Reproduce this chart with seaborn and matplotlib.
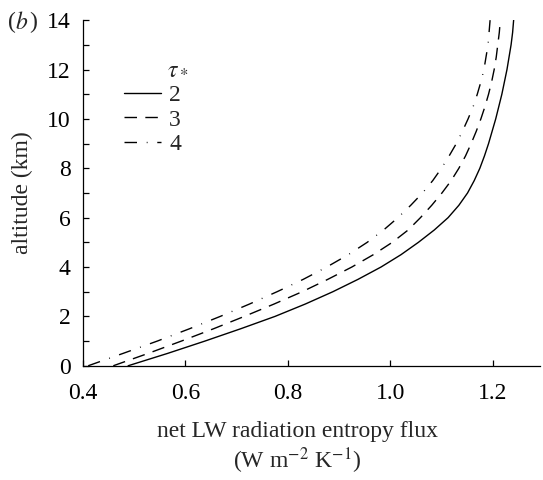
import matplotlib
matplotlib.use("Agg")
import matplotlib.pyplot as plt
import pandas as pd
import seaborn as sns

# altitude (km) and net LW radiation entropy flux for each tau*
altitude = [0, 0.5, 1, 1.5, 2, 2.5, 3, 3.5, 4, 4.5, 5, 5.5, 6, 6.5, 7, 7.5,
            8, 8.5, 9, 9.5, 10, 10.5, 11, 11.5, 12, 12.5, 13, 13.5, 14]
flux_tau2 = [0.488, 0.565, 0.638, 0.708, 0.775, 0.834, 0.888, 0.937, 0.982,
             1.021, 1.055, 1.086, 1.113, 1.134, 1.151, 1.164, 1.175, 1.184,
             1.192, 1.199, 1.206, 1.212, 1.218, 1.223, 1.228, 1.232, 1.236,
             1.239, 1.241]
flux_tau3 = [0.459, 0.527, 0.592, 0.655, 0.715, 0.773, 0.828, 0.878, 0.925,
             0.967, 1.004, 1.035, 1.059, 1.081, 1.101, 1.119, 1.134, 1.147,
             1.158, 1.168, 1.177, 1.185, 1.192, 1.198, 1.203, 1.207, 1.210,
             1.213, 1.215]
flux_tau4 = [0.410, 0.478, 0.545, 0.608, 0.668, 0.725, 0.779, 0.830, 0.876,
             0.918, 0.955, 0.987, 1.015, 1.040, 1.063, 1.083, 1.100, 1.115,
             1.129, 1.141, 1.152, 1.162, 1.170, 1.177, 1.183, 1.187, 1.191,
             1.193, 1.195]
tau_labels = ["2", "3", "4"]

df = pd.concat([
    pd.DataFrame({"altitude": altitude, "flux": f, "tau": t})
    for f, t in zip([flux_tau2, flux_tau3, flux_tau4], tau_labels)
])

sns.set_style("ticks")
plt.rcParams["font.family"] = ["Liberation Serif", "DejaVu Serif"]
plt.rcParams["mathtext.fontset"] = "stix"
fs = 17

fig = plt.figure(figsize=(5.43, 4.8), dpi=100)
ax = fig.add_axes([0.153, 0.238, 0.841, 0.720])

sns.lineplot(data=df, x="flux", y="altitude", style="tau", sort=False,
             estimator=None, color="black", linewidth=1.0,
             dashes={"2": "", "3": (9, 6), "4": (9, 7, 0.6, 7)},
             ax=ax)

ax.set_xlim(0.4, 1.292)
ax.set_ylim(0, 14)
ax.set_xticks([0.4, 0.6, 0.8, 1.0, 1.2])
ax.set_xticklabels(["0.4", "0.6", "0.8", "1.0", "1.2"])
ax.set_yticks(range(0, 15, 2))
ax.set_yticks(range(1, 15, 2), minor=True)
ax.tick_params(axis="both", which="both", direction="in", length=4.5,
               width=0.9, labelsize=fs, colors="black")
ax.tick_params(axis="x", pad=12.5)
ax.tick_params(axis="y", pad=9)
sns.despine(ax=ax)
for s in ["left", "bottom"]:
    ax.spines[s].set_linewidth(0.9)
    ax.spines[s].set_color("black")

ax.set_ylabel("altitude (km)", fontsize=fs)
ax.yaxis.set_label_coords(-0.11, 0.5)
ax.set_xlabel("net LW radiation entropy flux\n(W m$^{-2}$ K$^{-1}$)",
              fontsize=fs, linespacing=1.15)
ax.xaxis.set_label_coords(0.47, -0.16)
ax.xaxis.label.set_verticalalignment("top")

ax.legend(loc="upper left", bbox_to_anchor=(0.09, 0.813), frameon=False,
          fontsize=fs, handlelength=1.55, handletextpad=0.35,
          labelspacing=0.12, borderpad=0, borderaxespad=0)
ax.text(0.184, 0.86, r"$\tau_*$", transform=ax.transAxes, fontsize=fs,
        ha="left", va="center")

fig.text(0.014, 0.953, "(", fontsize=fs, va="center")
fig.text(0.028, 0.953, "$b$", fontsize=fs, va="center")
fig.text(0.053, 0.953, ")", fontsize=fs, va="center")

fig.savefig("out.png", dpi=100)
